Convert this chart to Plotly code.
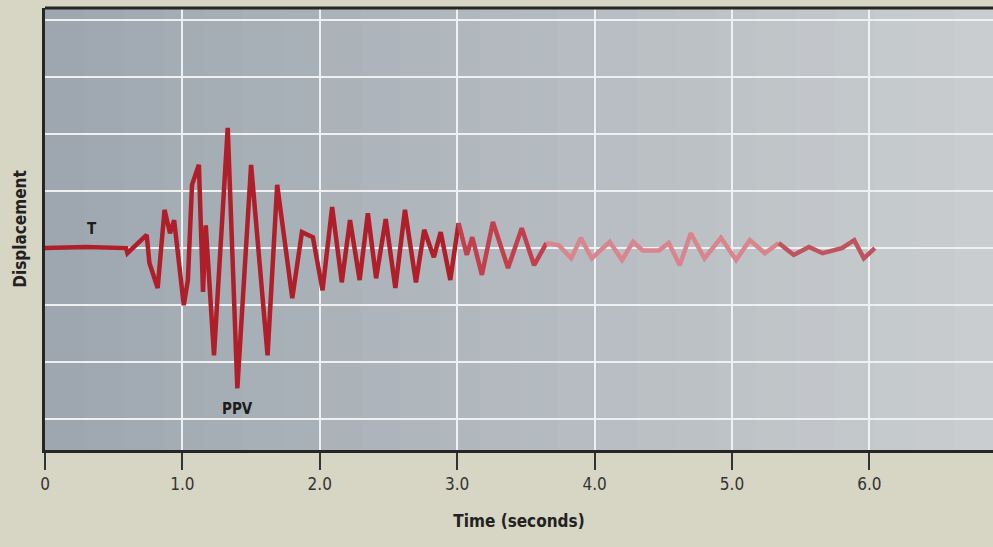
import plotly.graph_objects as go

# Seismogram trace (time in s, displacement in grid units)
time_s = [0.00, 0.30, 0.59, 0.60, 0.74, 0.76, 0.82, 0.87, 0.91, 0.94, 1.01, 1.04, 1.07, 1.12,
          1.15, 1.17, 1.23, 1.33, 1.40, 1.50, 1.62, 1.69, 1.80, 1.87, 1.95, 2.02, 2.09, 2.16,
          2.22, 2.29, 2.35, 2.41, 2.48, 2.55, 2.62, 2.70, 2.76, 2.83, 2.88, 2.95, 3.01, 3.07,
          3.11, 3.18, 3.26, 3.37, 3.47, 3.56, 3.65, 3.74, 3.83, 3.90, 3.98, 4.11, 4.20, 4.28,
          4.35, 4.47, 4.54, 4.62, 4.70, 4.80, 4.92, 5.03, 5.13, 5.24, 5.34, 5.45, 5.56, 5.66,
          5.80, 5.89, 5.96, 6.04]
displacement = [0.00, 0.02, 0.00, -0.09, 0.23, -0.26, -0.70, 0.67, 0.26, 0.49, -1.00, -0.56,
                1.11, 1.46, -0.77, 0.40, -1.88, 2.11, -2.46, 1.46, -1.88, 1.11, -0.88, 0.28,
                0.19, -0.74, 0.72, -0.60, 0.49, -0.56, 0.61, -0.53, 0.51, -0.70, 0.67, -0.60,
                0.32, -0.16, 0.28, -0.56, 0.44, -0.12, 0.19, -0.47, 0.46, -0.35, 0.35, -0.30,
                0.09, 0.05, -0.18, 0.18, -0.18, 0.11, -0.21, 0.11, -0.04, -0.04, 0.09, -0.30,
                0.26, -0.18, 0.18, -0.21, 0.14, -0.09, 0.09, -0.12, 0.02, -0.09, 0.00, 0.14,
                -0.18, 0.00]

# colour fading of the trace: (segment end time, colour)
segment_ends = [3.01, 3.65, 5.34, 6.04]
segment_colors = ["#b01e2a", "#c23f4c", "#d9858e", "#c0545e"]

tick_vals = [0, 1, 2, 3, 4, 5, 6]
tick_text = ["0", "1.0", "2.0", "3.0", "4.0", "5.0", "6.0"]
y_grid = [-3, -2, -1, 0, 1, 2, 3, 4]

labels = [("T", 0.345, 0.33), ("PPV", 1.40, -2.82)]

font_main = "DejaVu Sans Condensed, Open Sans, sans-serif"

fig = go.Figure()

# background gradient of the photographed panel (left darker -> right lighter)
n_bands = 24
c0 = (0x9e, 0xa7, 0xb0)
c1 = (0xc9, 0xcd, 0xcf)
for i in range(n_bands):
    f = i / (n_bands - 1)
    col = "rgb(%d,%d,%d)" % tuple(round(a + (b - a) * f) for a, b in zip(c0, c1))
    fig.add_shape(type="rect", xref="paper", yref="paper",
                  x0=i / n_bands, x1=(i + 1) / n_bands + 0.002, y0=0, y1=1,
                  fillcolor=col, line=dict(width=0), layer="below")

start = 0.0
for end, col in zip(segment_ends, segment_colors):
    xs = [t for t in time_s if start <= t <= end]
    ys = [d for t, d in zip(time_s, displacement) if start <= t <= end]
    fig.add_trace(go.Scatter(x=xs, y=ys, mode="lines",
                             line=dict(color=col, width=4.5, shape="linear"),
                             hoverinfo="skip", showlegend=False))
    start = end

for txt, tx, ty in labels:
    fig.add_annotation(x=tx, y=ty, text="<b>%s</b>" % txt, showarrow=False,
                       font=dict(family=font_main, size=15, color="#1c1c1c"))

fig.update_layout(
    width=993, height=547,
    margin=dict(l=45, r=0, t=8, b=97),
    paper_bgcolor="#d7d5c3",
    plot_bgcolor="#b3bbc2",
    font=dict(family=font_main, color="#2a2a2a"),
    xaxis=dict(range=[0, 6.9], tickvals=tick_vals, ticktext=tick_text,
               ticks="outside", ticklen=17, tickwidth=2, tickcolor="#333",
               tickfont=dict(size=17, color="#333"),
               showgrid=True, gridcolor="#eef0f1", gridwidth=2,
               showline=True, linecolor="#262626", linewidth=3, mirror=False,
               zeroline=False,
               title=dict(text="<b>Time (seconds)</b>", font=dict(size=17, color="#222"), standoff=22)),
    yaxis=dict(range=[-3.54, 4.21], tickvals=y_grid, showticklabels=False, ticks="",
               showgrid=True, gridcolor="#eef0f1", gridwidth=2,
               showline=True, linecolor="#262626", linewidth=3,
               zeroline=False,
               title=dict(text="<b>Displacement</b>", font=dict(size=17, color="#222"), standoff=12)),
)
# top frame line
fig.add_shape(type="line", xref="paper", yref="paper", x0=0, x1=1, y0=1, y1=1,
              line=dict(color="#262626", width=3))

fig.write_html("out.html", config={"displayModeBar": False},
               post_script="document.body.style.margin='0';")
